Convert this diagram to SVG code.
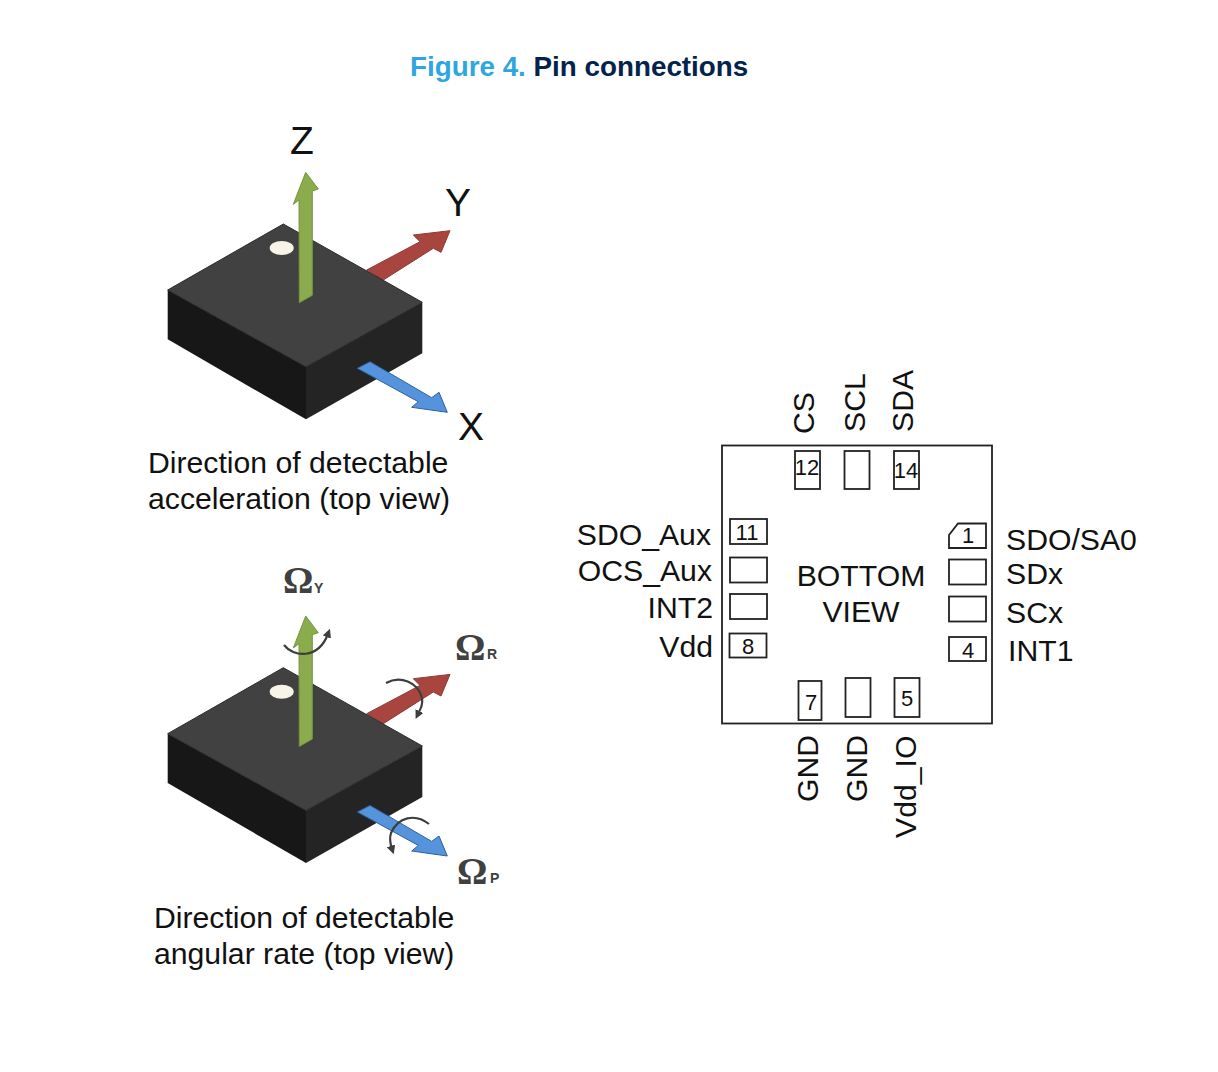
<svg xmlns="http://www.w3.org/2000/svg" width="1218" height="1072" viewBox="0 0 1218 1072">
<style>
text{font-family:"Liberation Sans",Arial,sans-serif;fill:#111}
.l{font-size:30.200px}
.a{font-size:39px}
.n{font-size:22px;text-anchor:middle}
.o{font-family:"Liberation Serif",serif;font-weight:700;font-size:38px;fill:#404040}
.s{font-weight:700;font-size:14px;fill:#404040}
.p{fill:#fff;stroke:#222;stroke-width:1.800}
.r{fill:none;stroke:#3d3d3d;stroke-width:2.200;marker-end:url(#rh)}
</style>
<defs>
<marker id="rh" markerWidth="4" markerHeight="4" refX="1.500" refY="2" orient="auto"><path d="M0 0L4 2L0 4Z" fill="#3d3d3d"/></marker>
<g id="chip">
<path d="M366.700 270L420 241.700L413.300 235L450 230.700L441 252.300L433.300 248.300L383.300 280Z" fill="#a8453f" stroke="#8f3a35"/>
<path d="M167.700 290L306 366.700L306 419.300L167.700 339.300Z" fill="#171717"/>
<path d="M306 366.700L422.300 302.300L422.300 353.300L306 419.300Z" fill="#242424"/>
<path d="M283.300 224L422.300 302.300L306 366.700L167.700 290Z" fill="#414141" stroke="#2b2b2b" stroke-width="1"/>
<ellipse cx="281.700" cy="248" rx="12" ry="7" fill="#f8f5e8"/>
<path d="M357.300 368.300L370 361.700L431.700 397.700L439 392.300L447.300 412.300L411.700 407.300L418.300 401.700Z" fill="#5593dc" stroke="#2f5f9c"/>
<path d="M305.700 172.300L318.300 189L312.300 191L312.300 295.300L299.300 302.700L299 200L293.300 204.300Z" fill="#8aac4c" stroke="#76963f"/>
</g>
</defs>

<g id="title"><text x="410" y="76" style="font-size:27.800px;font-weight:700;fill:#2ea6df">Figure 4. <tspan style="fill:#03234b">Pin connections</tspan></text></g>

<g id="accel-chip">
<use href="#chip"/>
<text class="a" x="290" y="154">Z</text>
<text class="a" x="445" y="216">Y</text>
<text class="a" x="458" y="440">X</text>
<text class="l" x="148" y="473">Direction of detectable</text>
<text class="l" x="148" y="509">acceleration (top view)</text>
</g>

<g id="gyro-chip">
<use href="#chip" y="443.700"/>
<path class="r" d="M284 645C293 657 318 660 328 634"/>
<path class="r" d="M386 683C400 675 418 682 422 698C423 704 421 708 418 714"/>
<path class="r" d="M429 824C415 813 398 817 391 833C389 839 390 843 392 849"/>
<text class="o" x="283" y="593">Ω</text><text class="s" x="314" y="593">Y</text>
<text class="o" x="455" y="660">Ω</text><text class="s" x="487" y="659">R</text>
<text class="o" x="457" y="884">Ω</text><text class="s" x="490" y="883">P</text>
<text class="l" x="154" y="928">Direction of detectable</text>
<text class="l" x="154" y="964">angular rate (top view)</text>
</g>

<g id="package">
<rect x="722" y="445.500" width="270" height="278" fill="#fff" stroke="#222" stroke-width="1.800"/>
<text class="l" x="861" y="586" text-anchor="middle">BOTTOM</text>
<text class="l" x="861" y="622" text-anchor="middle">VIEW</text>
</g>

<g id="pin-12"><rect class="p" x="795" y="451" width="25" height="38"/><text class="n" x="807" y="475">12</text><text class="l" transform="translate(814,434) rotate(-90)">CS</text></g>
<g id="pin-13"><rect class="p" x="844.500" y="451" width="25" height="38"/><text class="l" transform="translate(865,432) rotate(-90)">SCL</text></g>
<g id="pin-14"><rect class="p" x="894" y="451" width="25" height="38"/><text class="n" x="906" y="478">14</text><text class="l" transform="translate(913,432) rotate(-90)">SDA</text></g>

<g id="pin-11"><rect class="p" x="730" y="519" width="37" height="25"/><text class="n" x="747" y="540">11</text><text class="l" x="711" y="545" text-anchor="end">SDO_Aux</text></g>
<g id="pin-10"><rect class="p" x="730" y="557.500" width="37" height="25"/><text class="l" x="712" y="581" text-anchor="end">OCS_Aux</text></g>
<g id="pin-9"><rect class="p" x="730" y="594" width="37" height="25"/><text class="l" x="713" y="618" text-anchor="end">INT2</text></g>
<g id="pin-8"><rect class="p" x="729.500" y="633.500" width="37" height="24"/><text class="n" x="748" y="654">8</text><text class="l" x="713" y="657" text-anchor="end">Vdd</text></g>

<g id="pin-1"><path class="p" d="M949 535L958 523.500H986V548H949Z"/><text class="n" x="968" y="543">1</text><text class="l" x="1006" y="550">SDO/SA0</text></g>
<g id="pin-2"><rect class="p" x="949" y="559.500" width="37" height="25"/><text class="l" x="1006" y="584">SDx</text></g>
<g id="pin-3"><rect class="p" x="949" y="596.500" width="37" height="25"/><text class="l" x="1006" y="623">SCx</text></g>
<g id="pin-4"><rect class="p" x="949" y="637" width="37" height="24"/><text class="n" x="968" y="658">4</text><text class="l" x="1008" y="661">INT1</text></g>

<g id="pin-7"><rect class="p" x="798.500" y="681" width="23" height="39"/><text class="n" x="811" y="710">7</text><text class="l" transform="translate(818,802) rotate(-90)">GND</text></g>
<g id="pin-6"><rect class="p" x="845.500" y="678" width="25" height="39"/><text class="l" transform="translate(867,802) rotate(-90)">GND</text></g>
<g id="pin-5"><rect class="p" x="894.500" y="678" width="25" height="39"/><text class="n" x="907" y="706">5</text><text class="l" transform="translate(916,838) rotate(-90)">Vdd_IO</text></g>
</svg>
